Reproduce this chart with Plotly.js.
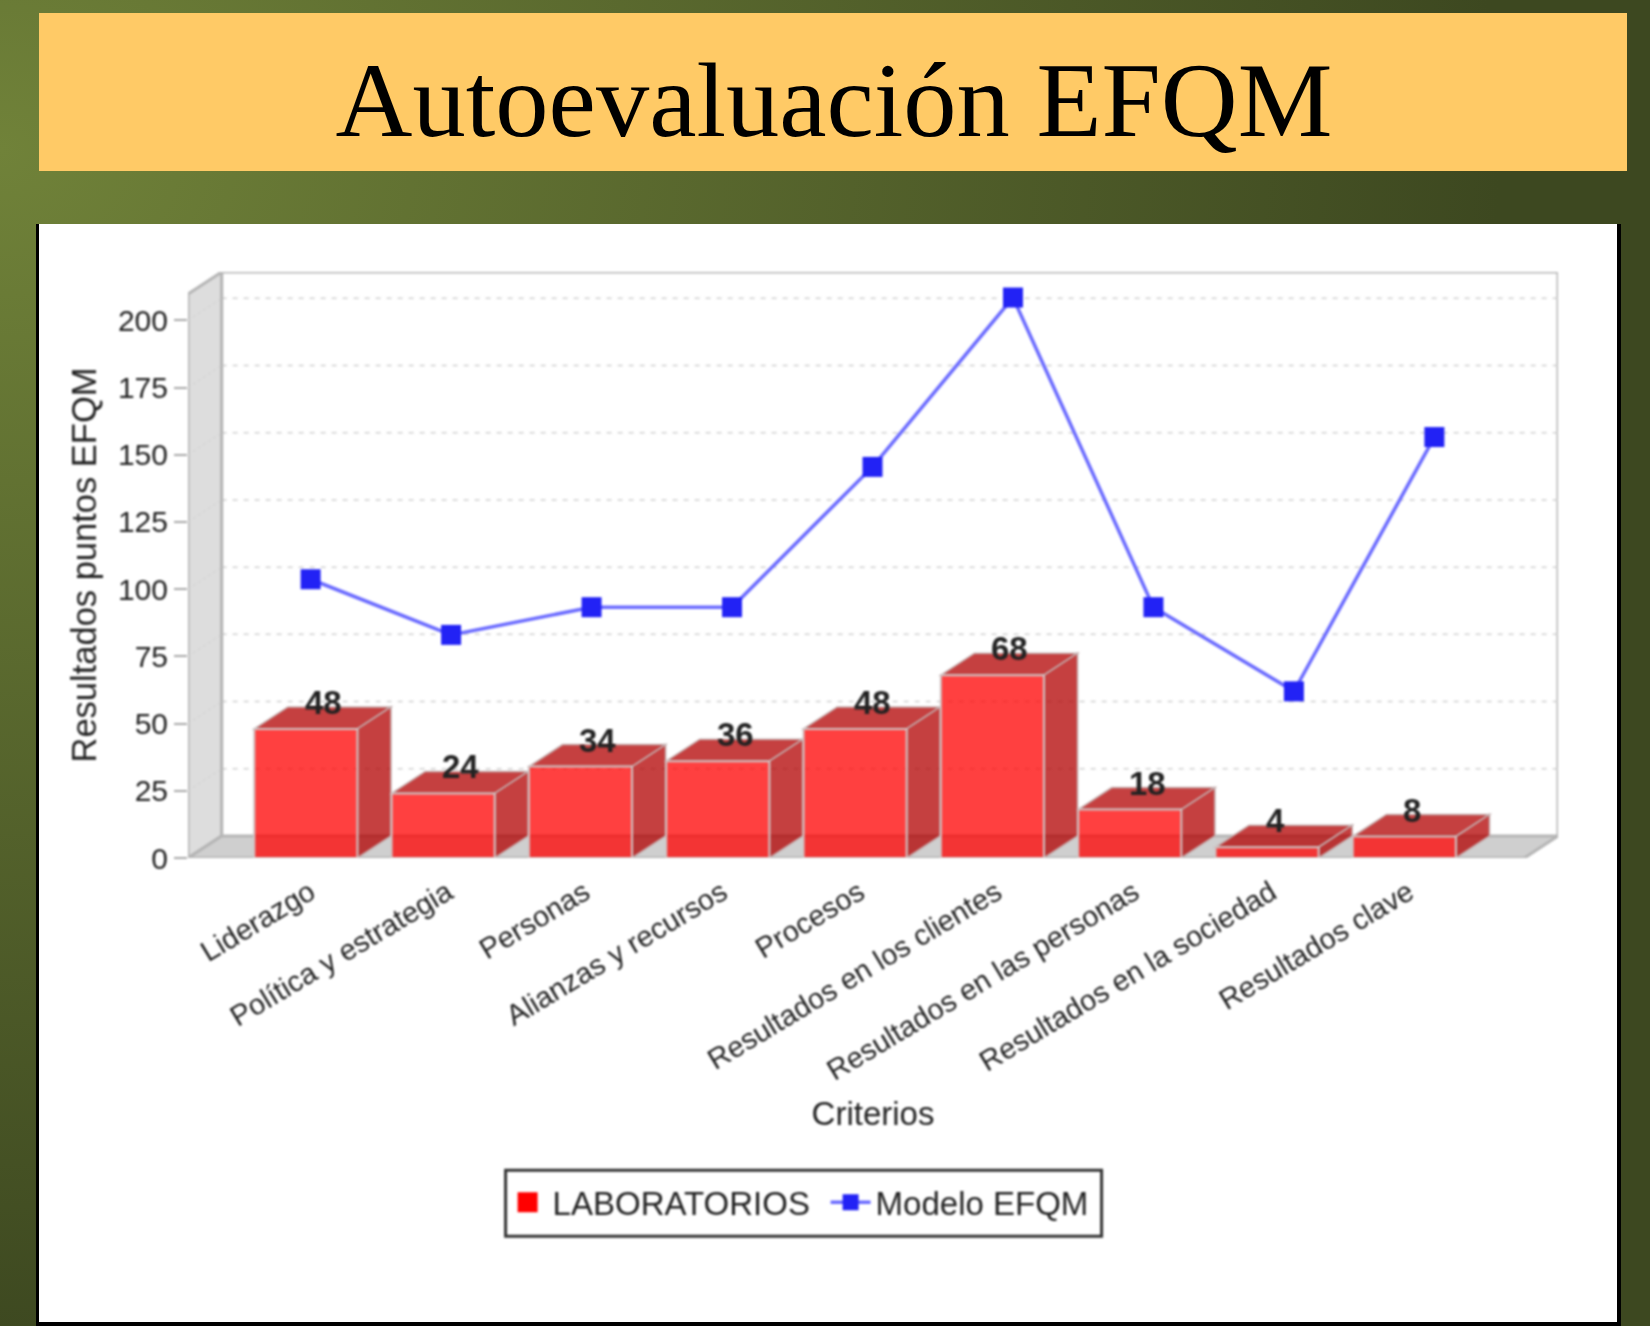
<!DOCTYPE html>
<html><head><meta charset="utf-8">
<script src="https://cdn.plot.ly/plotly-3.0.1.min.js"></script>
<style>
html,body{margin:0;padding:0;width:1650px;height:1326px;overflow:hidden}
body{position:relative;background:radial-gradient(ellipse 1500px 1200px at 0 150px,#708239 0%,#3d4820 100%)}
#banner{position:absolute;left:39px;top:13px;width:1588px;height:158px;background:#ffca66}
#panel{position:absolute;left:36px;top:224px;width:1578px;height:1098px;background:#fff;border:solid #000;border-width:0 4px 4px 3px}
#chart{position:absolute;left:0;top:0;width:1650px;height:1326px}
#clip{position:absolute;left:770px;top:1127px;width:210px;height:36px;background:#fff}
#chart .cartesianlayer, #chart .layer-below, #chart .layer-above, #chart .annotation, #chart .legend, #chart .g-xtitle, #chart .g-ytitle {filter:blur(0.8px)}
#chart .legend .traces:first-of-type .legendpoints path {d:path("M10,10H-10V-10H10Z");fill:#ff0000 !important;fill-opacity:1 !important;stroke:none !important;opacity:1 !important}
</style></head><body>
<div id="banner"></div><div id="panel"></div><div id="chart"></div><div id="clip"></div>
<script>
const categories = ["Liderazgo","Política y estrategia","Personas","Alianzas y recursos","Procesos","Resultados en los clientes","Resultados en las personas","Resultados en la sociedad","Resultados clave"];
const laboratorios = [48,24,34,36,48,68,18,4,8];
const modeloEFQM = [103.7,83,93.3,93.3,145.5,208.5,93.3,62,156.6];
const yTicks = [0,25,50,75,100,125,150,175,200];

const W=1650,H=1326;
const plotL=188.4,plotR=1558.4,plotT=271.5,plotB=857.6;
const xRange=[-0.858,9.119], xRangeLine=[-0.873,8.880], yRange=[0,218];
const depthX=0.245, depthY=8.2, barW=0.751;
const x0=xRange[0], x1=xRange[1]-depthX, yTop=yRange[1]-depthY;
const rect=(pts)=>'M'+pts.map(p=>p[0]+','+p[1]).join(' L')+' Z';
const shape=(path,fill,color,width,dash)=>({type:'path',xref:'x',yref:'y',layer:'below',path,fillcolor:fill,line:{color,width,dash:dash||'solid'}});

const shapes=[];
shapes.push({type:'path',xref:'x',yref:'y',layer:'below',path:`M${x0+depthX},${depthY} L${x0+depthX},${yRange[1]} L${xRange[1]},${yRange[1]} L${xRange[1]},${depthY}`,line:{color:'#b5b5b5',width:3}});
yTicks.slice(1).forEach(v=>{
  shapes.push(shape(`M${x0+depthX},${v+depthY} L${xRange[1]},${v+depthY}`,'rgba(0,0,0,0)','#d0d0d0',1.5,'5px,6px'));
});
shapes.push(shape(rect([[x0,0],[x0+depthX,depthY],[x0+depthX,yRange[1]],[x0,yTop]]),'#dddddd','#b5b5b5',3));
yTicks.slice(1).forEach(v=>{
  shapes.push(shape(`M${x0},${v} L${x0+depthX},${v+depthY}`,'rgba(0,0,0,0)','#cfcfcf',1,'dot'));
});
shapes.push(shape(rect([[x0,0],[x0+depthX,depthY],[xRange[1],depthY],[x1,0]]),'#cfcfcf','#b5b5b5',3));
laboratorios.forEach((v,i)=>{
  const a=i-barW/2,b=i+barW/2;
  shapes.push(shape(rect([[a,v],[a+depthX,v+depthY],[b+depthX,v+depthY],[b,v]]),'rgba(178,0,0,0.75)','#c4b0b0',1.5));
  shapes.push(shape(rect([[b,0],[b+depthX,depthY],[b+depthX,v+depthY],[b,v]]),'rgba(178,0,0,0.75)','#c4b0b0',1.5));
});
const fx=p=>(p-plotL)/(plotR-plotL), fy=p=>(plotB-p)/(plotB-plotT);
shapes.push({type:'rect',xref:'paper',yref:'paper',layer:'above',x0:fx(506),x1:fx(1102),y0:fy(1236),y1:fy(1170),line:{color:'#333',width:3},fillcolor:'rgba(0,0,0,0)'});

const annotations=laboratorios.map((v,i)=>({x:i,y:v,xref:'x',yref:'y',text:String(v),showarrow:false,xanchor:'left',yanchor:'bottom',xshift:-3,yshift:6,font:{family:'Liberation Sans',size:33,weight:700,color:'#222'}}));

const traces=[
 {type:'bar',name:'LABORATORIOS',x:categories.map((c,i)=>i),y:laboratorios,width:barW,marker:{color:'rgba(255,0,0,0.75)',line:{color:'#cfc4c4',width:2}},hoverinfo:'skip'},
 {type:'scatter',mode:'lines+markers',name:'Modelo EFQM',x:categories.map((c,i)=>i),y:modeloEFQM,xaxis:'x2',yaxis:'y',line:{color:'#6a6aff',width:3.5},marker:{symbol:'square',size:20,color:'#2222f5'},hoverinfo:'skip'}
];

const layout={
 width:W,height:H,paper_bgcolor:'rgba(0,0,0,0)',plot_bgcolor:'rgba(0,0,0,0)',
 margin:{l:plotL,r:W-plotR,t:plotT,b:H-plotB,pad:0,autoexpand:false},
 showlegend:true,bargap:0,hovermode:false,
 title:{text:'Autoevaluación EFQM',x:834/W,xanchor:'center',xref:'container',y:1-99/H,yanchor:'middle',yref:'container',font:{family:'Liberation Serif',size:106.5,color:'#000'}},
 font:{family:'Liberation Sans',color:'#222'},
 xaxis:{type:'linear',range:xRange,tickmode:'array',tickvals:categories.map((c,i)=>i+0.03),ticktext:categories,tickangle:-31,ticks:'',ticklabelstandoff:11,showgrid:false,zeroline:false,showline:false,tickfont:{size:29,color:'#222'},title:{text:'Criterios',font:{size:33,color:'#222'},standoff:16},automargin:false},
 xaxis2:{type:'linear',range:xRangeLine,overlaying:'x',anchor:'y',visible:false,showgrid:false,zeroline:false},
 yaxis:{range:yRange,tickmode:'array',tickvals:yTicks,ticks:'outside',ticklen:13,tickwidth:2,tickcolor:'#a8a8a8',showgrid:false,zeroline:false,showline:false,tickfont:{size:30,color:'#222'},title:{text:'Resultados puntos EFQM',font:{size:34.5,color:'#222'},standoff:10},automargin:false},
 legend:{orientation:'h',x:fx(503),xanchor:'left',y:fy(1202),yanchor:'middle',bgcolor:'rgba(0,0,0,0)',borderwidth:0,font:{size:33,color:'#222'},traceorder:'normal',itemwidth:40,entrywidth:268,entrywidthmode:'pixels'},
 shapes,annotations
};
Plotly.newPlot('chart',traces,layout,{displayModeBar:false,staticPlot:true});
</script>
</body></html>
